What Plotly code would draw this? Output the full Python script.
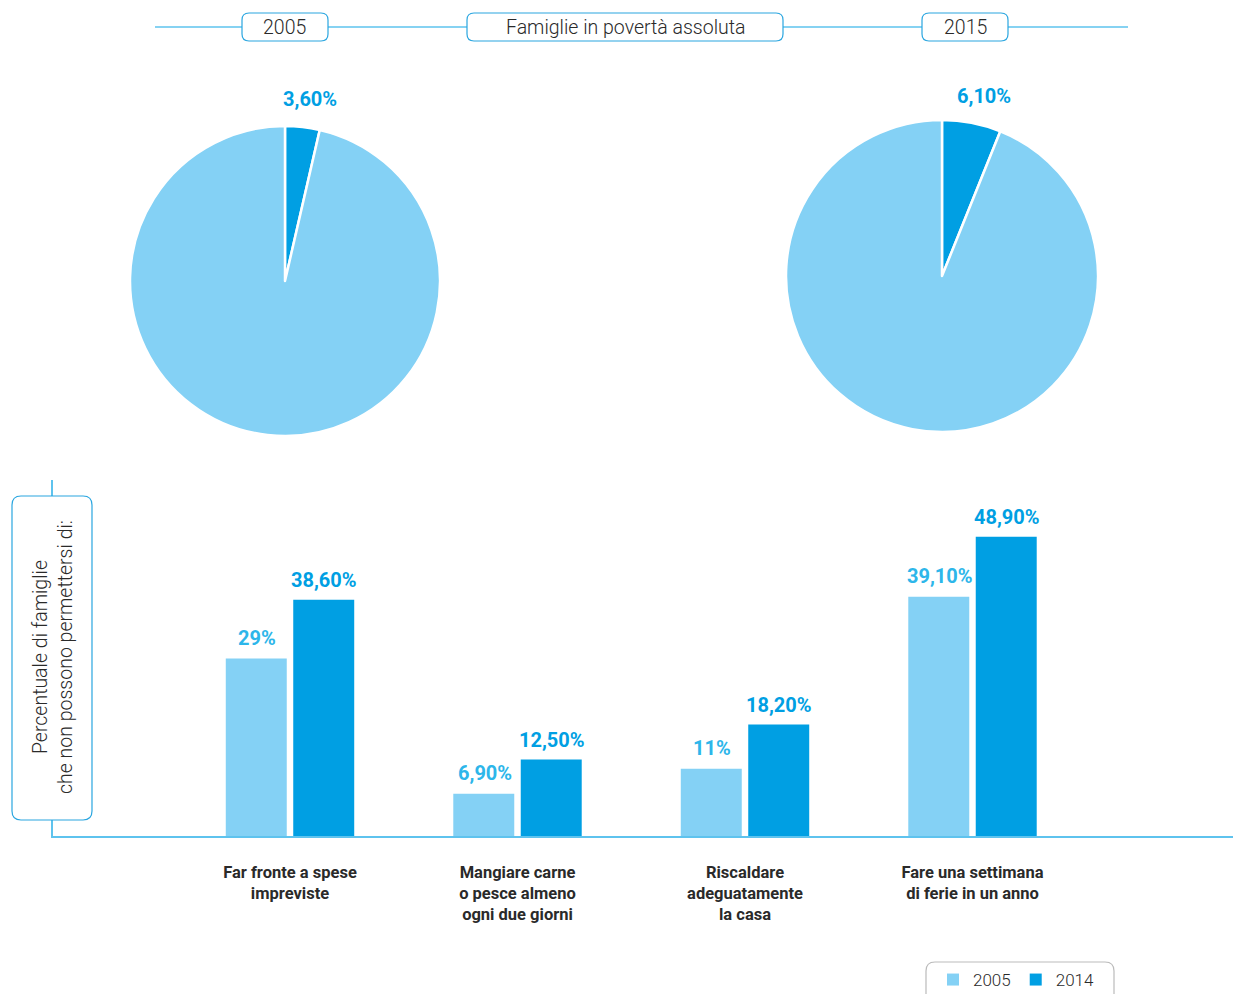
import math
import plotly.graph_objects as go

W, H = 1233, 994

# ---- data ----
pie_years = ["2005", "2015"]
pie_labels = ["In povertà assoluta", "Altre famiglie"]
pie_2005 = [3.6, 96.4]
pie_2015 = [6.1, 93.9]
pie_text_2005 = "3,60%"
pie_text_2015 = "6,10%"

categories = [
    "Far fronte a spese<br>impreviste",
    "Mangiare carne<br>o pesce almeno<br>ogni due giorni",
    "Riscaldare<br>adeguatamente<br>la casa",
    "Fare una settimana<br>di ferie in un anno",
]
series_names = ["2005", "2014"]
values_2005 = [29.0, 6.9, 11.0, 39.1]
values_2014 = [38.6, 12.5, 18.2, 48.9]
labels_2005 = ["29%", "6,90%", "11%", "39,10%"]
labels_2014 = ["38,60%", "12,50%", "18,20%", "48,90%"]

title_text = "Famiglie in povertà assoluta"
ytitle_text = "Percentuale di famiglie<br>che non possono permettersi di:"

# ---- style ----
LIGHT = "#84D1F5"
DARK = "#009FE3"
LIGHT_TXT = "#2DB6EA"
LINE = "#5EC3EE"
BOX = "#2AA6E0"
TXT = "#2A2A2A"
FONT = "Roboto"


def px(x):
    return x / W


def py(y):
    return 1 - y / H


def rrect(x0, y0, x1, y1, r):
    pts = [
        ("M", px(x0 + r), py(y0)),
        ("L", px(x1 - r), py(y0)),
        ("Q", px(x1), py(y0), px(x1), py(y0 + r)),
        ("L", px(x1), py(y1 - r)),
        ("Q", px(x1), py(y1), px(x1 - r), py(y1)),
        ("L", px(x0 + r), py(y1)),
        ("Q", px(x0), py(y1), px(x0), py(y1 - r)),
        ("L", px(x0), py(y0 + r)),
        ("Q", px(x0), py(y0), px(x0 + r), py(y0)),
    ]
    s = ""
    for p in pts:
        cmd = p[0]
        nums = p[1:]
        coords = " ".join(f"{nums[i]:.5f},{nums[i+1]:.5f}" for i in range(0, len(nums), 2))
        s += f"{cmd} {coords} "
    return s + "Z"


fig = go.Figure()

annotations = []

# pies (geometry in px: center x, center y, radius)
pie_geo = [(285, 281, 155), (942, 276, 156)]
for vals, txt, (cx, cy, r) in zip([pie_2005, pie_2015], [pie_text_2005, pie_text_2015], pie_geo):
    fig.add_trace(go.Pie(
        labels=pie_labels, values=vals, textinfo="none", sort=False, direction="clockwise",
        rotation=0, marker=dict(colors=[DARK, LIGHT], line=dict(color="white", width=2.5)),
        domain=dict(x=[px(cx - r), px(cx + r)], y=[py(cy + r), py(cy - r)]),
        showlegend=False, hoverinfo="label+value",
    ))
    # label at (slightly beyond) mid-angle of the highlighted slice, just outside the pie
    ang = math.radians(vals[0] / sum(vals) * 360 * 0.6)
    rr_ = r + 29
    lx = cx + rr_ * math.sin(ang)
    ly = cy - rr_ * math.cos(ang)
    annotations.append(dict(text=f"<b>{txt}</b>", xref="paper", yref="paper", x=px(lx), y=py(ly),
                            xanchor="center", yanchor="middle", showarrow=False,
                            font=dict(family=FONT, size=20, color=DARK)))

# bars
fig.add_trace(go.Bar(x=categories, y=values_2005, name=series_names[0], marker_color=LIGHT,
                     marker_line_width=0))
fig.add_trace(go.Bar(x=categories, y=values_2014, name=series_names[1], marker_color=DARK,
                     marker_line_width=0))

for cat, v, lab in zip(categories, values_2005, labels_2005):
    annotations.append(dict(text=f"<b>{lab}</b>", x=cat, y=v, xref="x", yref="y",
                            xshift=-33, yshift=21, showarrow=False, xanchor="center",
                            yanchor="middle", font=dict(family=FONT, size=20, color=LIGHT_TXT)))
for cat, v, lab in zip(categories, values_2014, labels_2014):
    annotations.append(dict(text=f"<b>{lab}</b>", x=cat, y=v, xref="x", yref="y",
                            xshift=34, yshift=20, showarrow=False, xanchor="center",
                            yanchor="middle", font=dict(family=FONT, size=20, color=DARK)))

shapes = []
shapes.append(dict(type="line", xref="paper", yref="paper", x0=px(155), x1=px(1128),
                   y0=py(27), y1=py(27), line=dict(color=LINE, width=1.5), layer="below"))
for (x0, x1) in [(242, 328), (467, 783), (922, 1008)]:
    shapes.append(dict(type="path", xref="paper", yref="paper", path=rrect(x0, 13, x1, 41, 7),
                       fillcolor="white", line=dict(color=BOX, width=1.2)))
shapes.append(dict(type="path", xref="paper", yref="paper", path=rrect(12, 496, 92, 820, 9),
                   fillcolor="white", line=dict(color=BOX, width=1.2)))
shapes.append(dict(type="path", xref="paper", yref="paper", path=rrect(926, 962, 1114, 1004, 9),
                   fillcolor="white", line=dict(color="#BBBBBB", width=1.2), layer="below"))

for txt, xc in [(pie_years[0], 284), (title_text, 625), (pie_years[1], 965)]:
    annotations.append(dict(text=txt, xref="paper", yref="paper", x=px(xc), y=py(27),
                            xanchor="center", yanchor="middle", showarrow=False,
                            font=dict(family=FONT, size=19.5, color=TXT, weight=300)))
annotations.append(dict(text=ytitle_text, xref="paper", yref="paper", x=px(53), y=py(657),
                        xanchor="center", yanchor="middle", showarrow=False, textangle=-90,
                        font=dict(family=FONT, size=19.5, color=TXT, weight=300)))

# axis geometry: categories centered at 290, 518, 745, 973 px
step = 227.5
x_lo = (53 - 290) / step
x_hi = (1233 - 290) / step
y_top_px = 480
scale = 6.12  # px per percent
y_hi = (836 - y_top_px) / scale

fig.update_layout(
    width=W, height=H, margin=dict(l=0, r=0, t=0, b=0, autoexpand=False),
    paper_bgcolor="white", plot_bgcolor="white",
    barmode="group", bargap=0.407, bargroupgap=0.096,
    xaxis=dict(domain=[px(53), 1], range=[x_lo, x_hi], showline=True, linecolor=LINE,
               linewidth=1.5, showgrid=False, zeroline=False, ticks="", automargin=False,
               tickfont=dict(family=FONT, size=16.5, color=TXT, weight="bold"),
               ticklabelstandoff=20, fixedrange=True),
    yaxis=dict(domain=[py(836), py(y_top_px)], range=[0, y_hi], showline=True, linecolor=LINE,
               linewidth=1.5, showgrid=False, zeroline=False, showticklabels=False, ticks="",
               automargin=False, fixedrange=True),
    legend=dict(orientation="h", x=px(933), y=py(980), xanchor="left", yanchor="middle",
                font=dict(family=FONT, size=17, color=TXT, weight=300), bgcolor="rgba(0,0,0,0)",
                itemwidth=30, traceorder="normal"),
    shapes=shapes, annotations=annotations,
)

fig.write_html("out.html", config={"displayModeBar": False},
               post_script="document.body.style.margin='0';")
